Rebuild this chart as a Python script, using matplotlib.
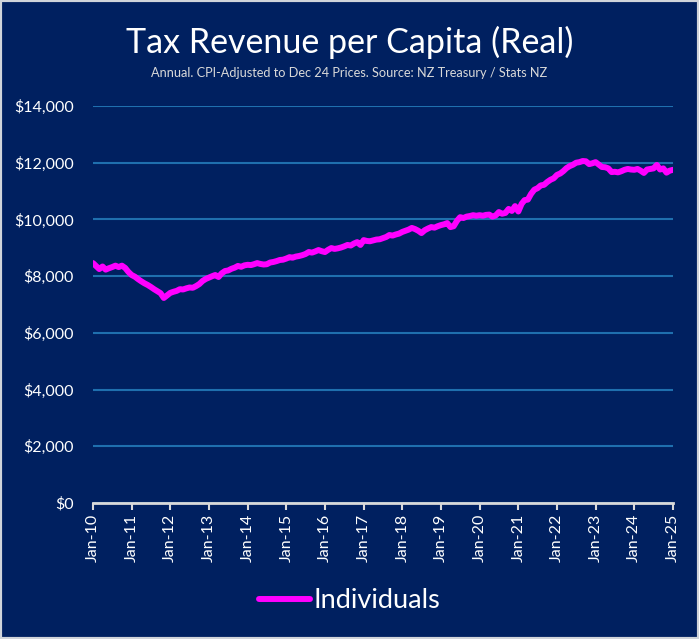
import matplotlib
matplotlib.use("Agg")
import matplotlib.pyplot as plt
import matplotlib.dates as mdates
import matplotlib.ticker as mticker
import pandas as pd
import numpy as np

# Monthly values, Jan-2010 .. Jan-2025
v2010 = [8460, 8350, 8250, 8340, 8230, 8280, 8320, 8370, 8320, 8370, 8290, 8150]
v2011 = [8040, 7980, 7900, 7820, 7750, 7690, 7620, 7540, 7470, 7400, 7230, 7320]
v2012 = [7410, 7450, 7480, 7540, 7530, 7570, 7600, 7590, 7650, 7720, 7830, 7900]
v2013 = [7950, 8000, 8040, 7970, 8100, 8180, 8200, 8260, 8300, 8360, 8330, 8380]
v2014 = [8400, 8390, 8420, 8460, 8430, 8410, 8420, 8480, 8500, 8530, 8570, 8580]
v2015 = [8620, 8670, 8650, 8690, 8710, 8740, 8780, 8850, 8830, 8870, 8920, 8880]
v2016 = [8850, 8930, 8990, 8960, 8980, 9010, 9050, 9100, 9080, 9150, 9200, 9100]
v2017 = [9270, 9240, 9230, 9260, 9290, 9300, 9340, 9380, 9450, 9430, 9470, 9500]
v2018 = [9560, 9600, 9640, 9700, 9660, 9600, 9520, 9620, 9680, 9730, 9710, 9760]
v2019 = [9800, 9830, 9870, 9730, 9760, 9950, 10080, 10050, 10100, 10120, 10150, 10130]
v2020 = [10150, 10130, 10160, 10170, 10100, 10140, 10260, 10200, 10230, 10370, 10300, 10470]
v2021 = [10280, 10550, 10680, 10700, 10900, 11050, 11100, 11200, 11220, 11320, 11400, 11450]
v2022 = [11570, 11620, 11700, 11810, 11880, 11930, 12000, 12020, 12060, 12050, 11950, 11980]
v2023 = [12020, 11930, 11850, 11840, 11800, 11670, 11680, 11660, 11700, 11750, 11780, 11760]
v2024 = [11750, 11780, 11720, 11640, 11760, 11780, 11800, 11920, 11760, 11800, 11650, 11720]
v2025 = [11750]

individuals = (v2010 + v2011 + v2012 + v2013 + v2014 + v2015 + v2016 + v2017 +
               v2018 + v2019 + v2020 + v2021 + v2022 + v2023 + v2024 + v2025)
dates = pd.date_range("2010-01-01", periods=len(individuals), freq="MS")

series_name = "Individuals"
title = "Tax Revenue per Capita (Real)"
subtitle = "Annual. CPI-Adjusted to Dec 24 Prices. Source: NZ Treasury / Stats NZ"
y_ticks = [0, 2000, 4000, 6000, 8000, 10000, 12000, 14000]

BG = "#002060"
GRID = "#1f6fae"
FONT = ["Lato", "DejaVu Sans"]

fig = plt.figure(figsize=(6.99, 6.39), dpi=100, facecolor=BG)
fig.patches.append(plt.Rectangle((0, 0), 1, 1, transform=fig.transFigure,
                                 fill=False, edgecolor="#d0d4da", linewidth=3))
W, H = 699, 639
ax = fig.add_axes([93 / W, 1 - 503 / H, (673 - 93) / W, (503 - 106) / H])
ax.set_facecolor(BG)

ax.plot(dates, individuals, color="#ff00ff", linewidth=4.3, label=series_name,
        solid_capstyle="round", zorder=3)

ax.set_xlim(pd.Timestamp("2010-01-01"), pd.Timestamp("2025-01-01"))
ax.set_ylim(0, 14000)
ax.set_yticks(y_ticks)
ax.yaxis.set_major_formatter(mticker.FuncFormatter(lambda v, p: f"${v:,.0f}"))
ax.xaxis.set_major_locator(mdates.YearLocator(1, month=1, day=1))
ax.xaxis.set_major_formatter(mdates.DateFormatter("%b-%y"))

ax.grid(axis="y", color=GRID, linewidth=1.5, zorder=1)
ax.grid(axis="x", visible=False)
for s in ["top", "right", "left"]:
    ax.spines[s].set_visible(False)
ax.spines["bottom"].set_color("#d9d9d9")
ax.spines["bottom"].set_linewidth(2)
ax.spines["bottom"].set_zorder(4)

ax.tick_params(axis="y", length=0, pad=14, labelsize=11.5, labelcolor="white")
ax.tick_params(axis="x", direction="out", length=5, width=1.5, color="#d9d9d9",
               labelsize=11.5, labelcolor="white", pad=3, labelrotation=90)
for lab in ax.get_xticklabels() + ax.get_yticklabels():
    lab.set_fontfamily(FONT)

fig.text(0.5, 1 - 42 / H, title, ha="center", va="center", color="white",
         fontsize=24.5, family=FONT)
fig.text(0.5, 1 - 73 / H, subtitle, ha="center", va="center", color="#d9d9d9",
         fontsize=9.2, family=FONT)

leg = fig.legend(loc="center", bbox_to_anchor=(0.5, 1 - 601 / H), frameon=False,
                 prop={"family": FONT, "size": 19.5}, handlelength=1.9,
                 handletextpad=0.1)
for t in leg.get_texts():
    t.set_color("white")

fig.savefig("out.png", dpi=100, facecolor=BG)
